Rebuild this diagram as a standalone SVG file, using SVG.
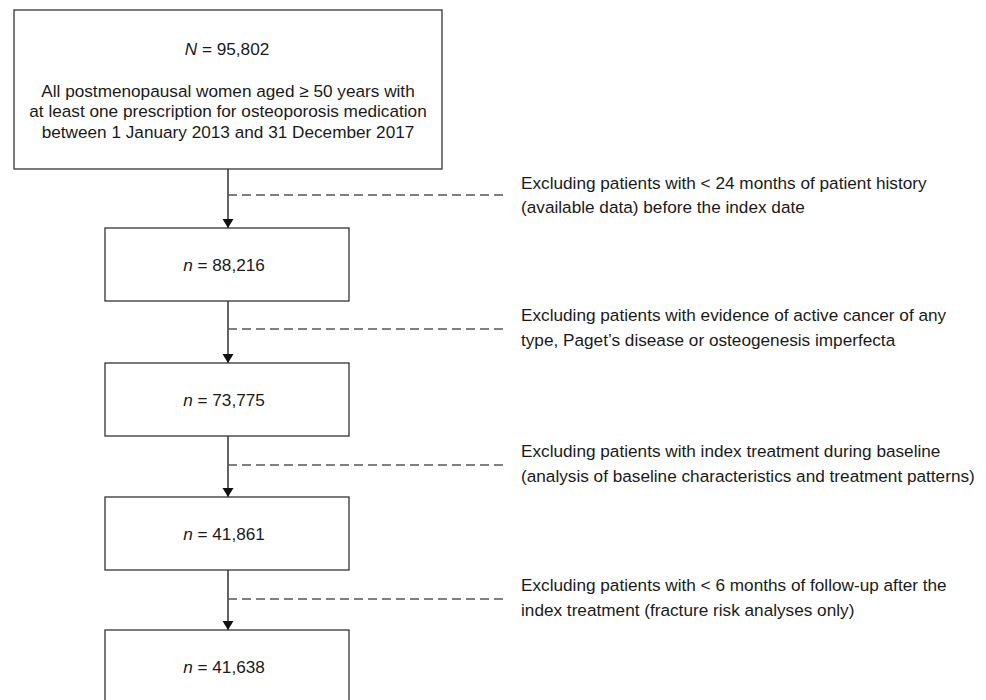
<svg xmlns="http://www.w3.org/2000/svg" width="986" height="700" viewBox="0 0 986 700">
<defs>
<style>
.box{fill:#fff;stroke:#333;stroke-width:1.3}
.t{font-family:"Liberation Sans",Arial,sans-serif;font-size:17.2px;fill:#1a1a1a}
.c{text-anchor:middle}
.flow{stroke:#111;stroke-width:1.3;fill:none}
.dash{stroke:#555;stroke-width:1.3;stroke-dasharray:9 5;fill:none}
</style>
<marker id="ah" markerWidth="10" markerHeight="12" refX="9" refY="6" orient="auto" markerUnits="userSpaceOnUse">
<path d="M0,0.5 L9,6 L0,11.5 Z" fill="#111"/>
</marker>
</defs>
<rect width="986" height="700" fill="#fff"/>
<g id="connectors">
<line class="flow" x1="228" y1="169" x2="228" y2="228" marker-end="url(#ah)"/>
<line class="flow" x1="228" y1="301" x2="228" y2="363" marker-end="url(#ah)"/>
<line class="flow" x1="228" y1="436" x2="228" y2="497" marker-end="url(#ah)"/>
<line class="flow" x1="228" y1="570" x2="228" y2="630" marker-end="url(#ah)"/>
<line class="dash" x1="228" y1="195" x2="508" y2="195"/>
<line class="dash" x1="228" y1="329" x2="508" y2="329"/>
<line class="dash" x1="228" y1="465" x2="508" y2="465"/>
<line class="dash" x1="228" y1="599" x2="508" y2="599"/>
</g>
<g id="n1">
<rect class="box" x="14" y="10" width="428" height="159"/>
<text class="t c" x="227" y="55"><tspan font-style="italic">N</tspan> = 95,802</text>
<text class="t c" x="228" y="97">All postmenopausal women aged ≥ 50 years with</text>
<text class="t c" x="228" y="117">at least one prescription for osteoporosis medication</text>
<text class="t c" x="228" y="138">between 1 January 2013 and 31 December 2017</text>
</g>
<g id="n2">
<rect class="box" x="105" y="228" width="244" height="73"/>
<text class="t c" x="224" y="271"><tspan font-style="italic">n</tspan> = 88,216</text>
</g>
<g id="n3">
<rect class="box" x="105" y="363" width="244" height="73"/>
<text class="t c" x="224" y="406"><tspan font-style="italic">n</tspan> = 73,775</text>
</g>
<g id="n4">
<rect class="box" x="105" y="497" width="244" height="73"/>
<text class="t c" x="224" y="540"><tspan font-style="italic">n</tspan> = 41,861</text>
</g>
<g id="n5">
<rect class="box" x="105" y="630" width="244" height="73"/>
<text class="t c" x="224" y="673"><tspan font-style="italic">n</tspan> = 41,638</text>
</g>
<g id="ex1">
<text class="t" x="521" y="189">Excluding patients with &lt; 24 months of patient history</text>
<text class="t" x="521" y="213">(available data) before the index date</text>
</g>
<g id="ex2">
<text class="t" x="521" y="321">Excluding patients with evidence of active cancer of any</text>
<text class="t" x="521" y="346">type, Paget’s disease or osteogenesis imperfecta</text>
</g>
<g id="ex3">
<text class="t" x="521" y="457">Excluding patients with index treatment during baseline</text>
<text class="t" x="521" y="482">(analysis of baseline characteristics and treatment patterns)</text>
</g>
<g id="ex4">
<text class="t" x="521" y="591">Excluding patients with &lt; 6 months of follow-up after the</text>
<text class="t" x="521" y="616">index treatment (fracture risk analyses only)</text>
</g>
</svg>
